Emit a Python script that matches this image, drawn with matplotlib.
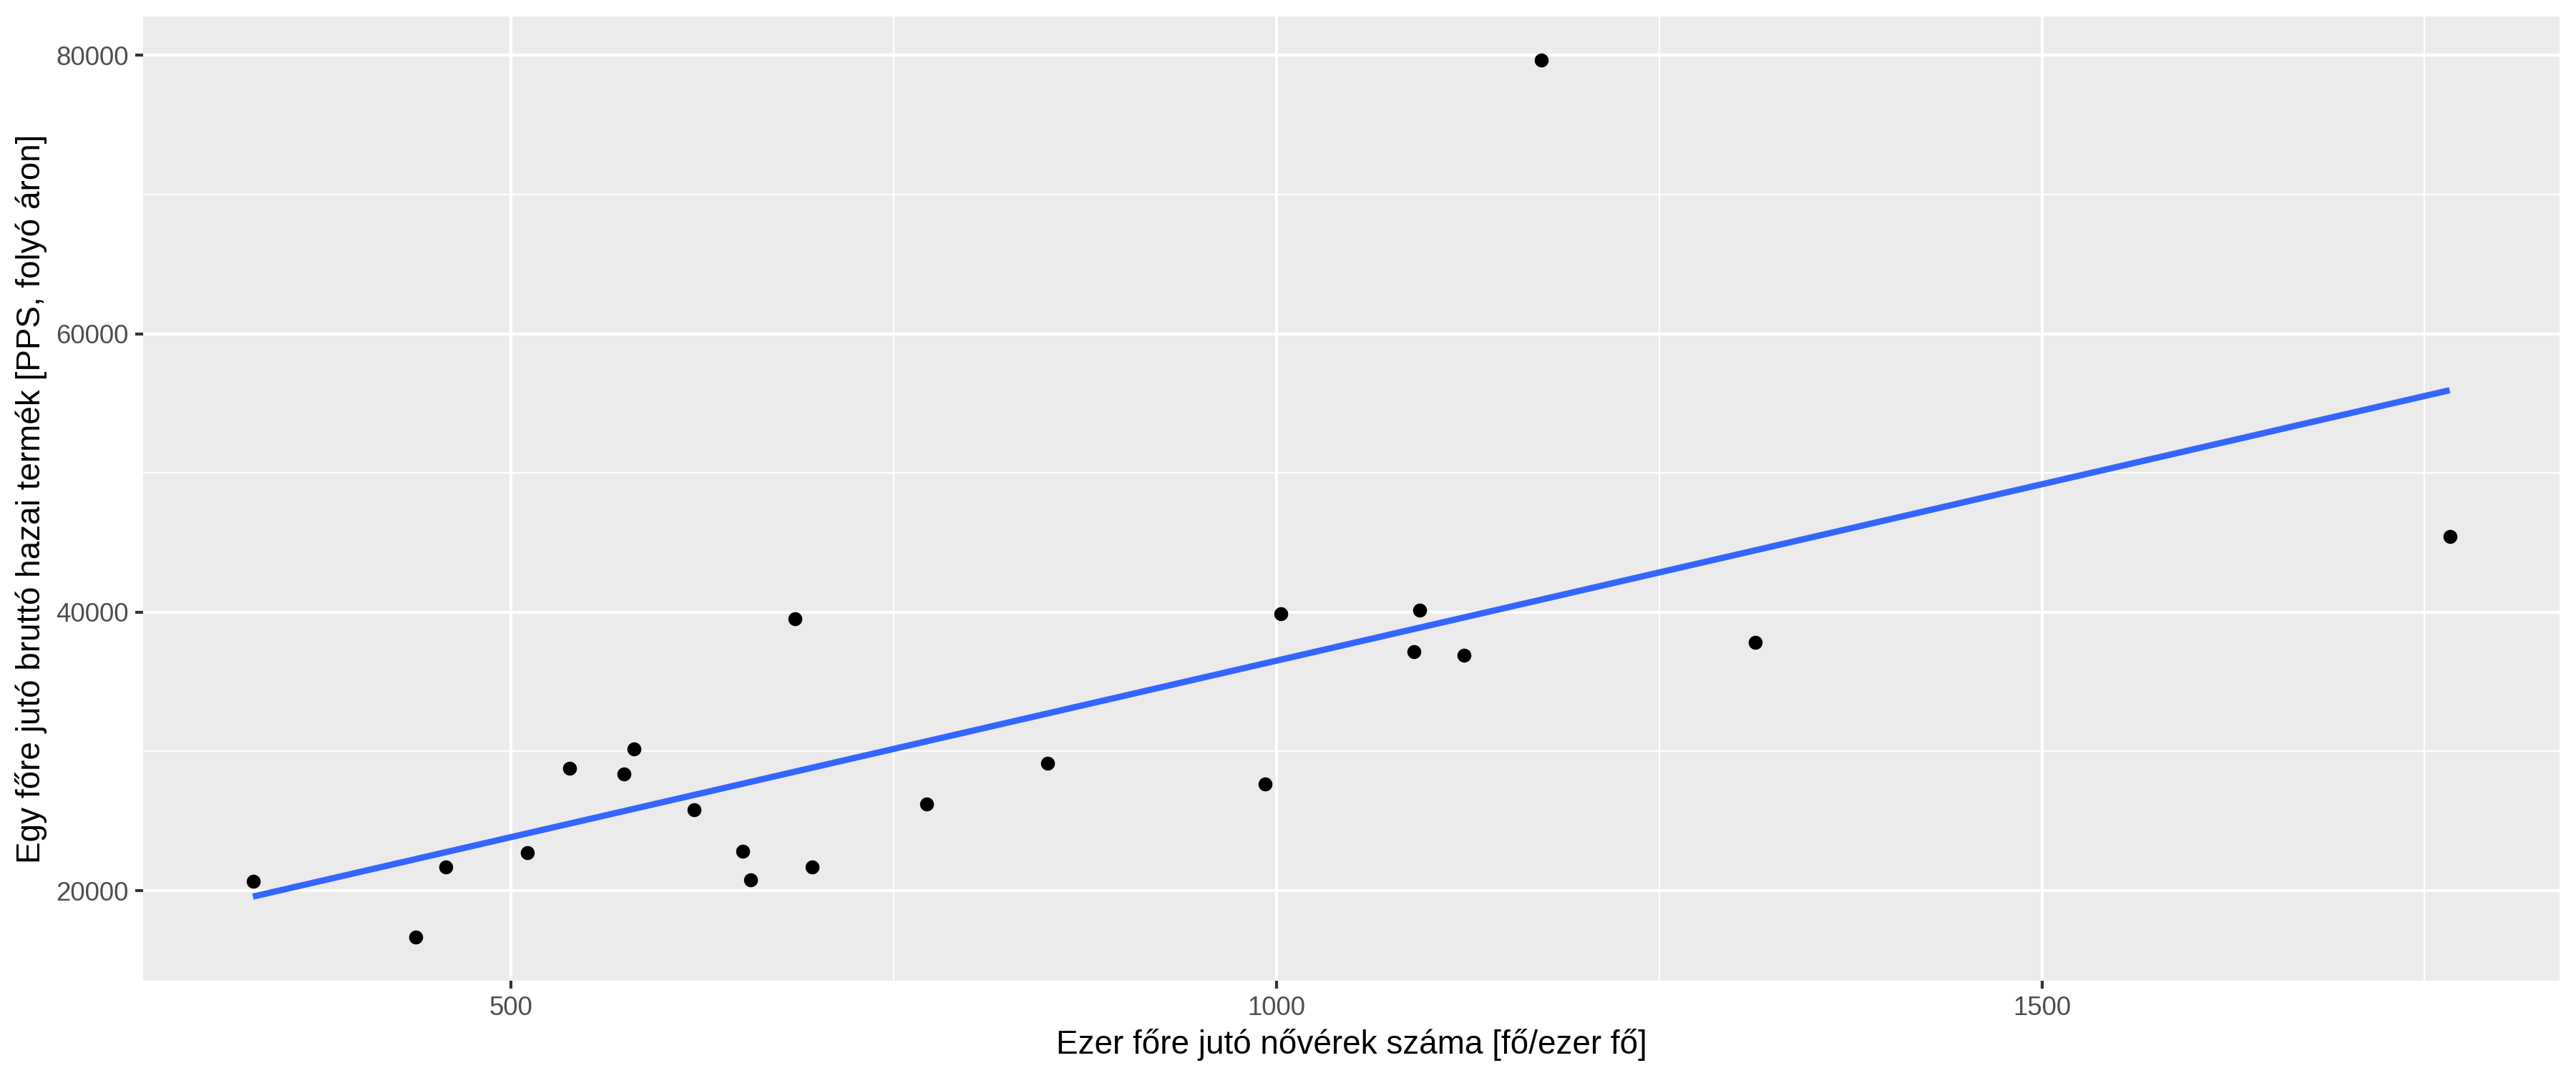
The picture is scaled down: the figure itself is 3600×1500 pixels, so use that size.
import numpy as np
import matplotlib
matplotlib.use("Agg")
import matplotlib.pyplot as plt
from matplotlib.ticker import MultipleLocator

plt.rcParams['font.family'] = ['Liberation Sans', 'DejaVu Sans']

# nurses per thousand people vs GDP per capita (PPS)
nurses = [331.3, 437.8, 457.1, 510.5, 538.3, 573.7, 580.1, 619.6, 651.3, 656.3, 685.4,
          696.8, 771.2, 850.3, 992.6, 1002.8, 1089.6, 1093.4, 1122.5, 1172.8, 1312.6, 1766.4]
gdp = [20660, 16680, 21700, 22750, 28800, 28390, 30180, 25790, 22810, 20770, 39510,
       21690, 26230, 29160, 27660, 39910, 37140, 40140, 36920, 79640, 37850, 45460]

x_title = "Ezer főre jutó nővérek száma [fő/ezer fő]"
y_title = "Egy főre jutó bruttó hazai termék [PPS, folyó áron]"

x = np.array(nurses)
y = np.array(gdp)

fig = plt.figure(figsize=(12, 5), dpi=300)
ax = fig.add_axes([200/3600, 1 - 1371/1500, 3377/3600, 1348/1500])
ax.set_facecolor("#EBEBEB")
for s in ax.spines.values():
    s.set_visible(False)

# linear fit like geom_smooth(method="lm", se=FALSE)
b1, b0 = np.polyfit(x, y, 1)
xs = np.array([x.min(), x.max()])
ax.plot(xs, b0 + b1*xs, color="#3366FF", lw=2.1, zorder=3, solid_capstyle="butt")
ax.scatter(x, y, s=22, color="black", zorder=4, linewidths=0)

# ggplot style 5% expansion
dx = (x.max() - x.min())*0.05
dy = (y.max() - y.min())*0.05
ax.set_xlim(x.min() - dx, x.max() + dx)
ax.set_ylim(y.min() - dy, y.max() + dy)

ax.xaxis.set_major_locator(MultipleLocator(500))
ax.xaxis.set_minor_locator(MultipleLocator(250))
ax.yaxis.set_major_locator(MultipleLocator(20000))
ax.yaxis.set_minor_locator(MultipleLocator(10000))
ax.grid(which="major", color="white", lw=1.0)
ax.grid(which="minor", color="white", lw=0.5)
ax.set_axisbelow(True)

ax.tick_params(which="major", length=2.75, width=1.0, color="#333333", pad=2.2,
               labelsize=8.8, labelcolor="#4D4D4D")
ax.tick_params(which="minor", length=0)

ax.set_xlabel(x_title, fontsize=11, labelpad=2.75)
ax.set_ylabel(y_title, fontsize=11, labelpad=2.75)

fig.savefig("out.png", dpi=300, facecolor="white")
